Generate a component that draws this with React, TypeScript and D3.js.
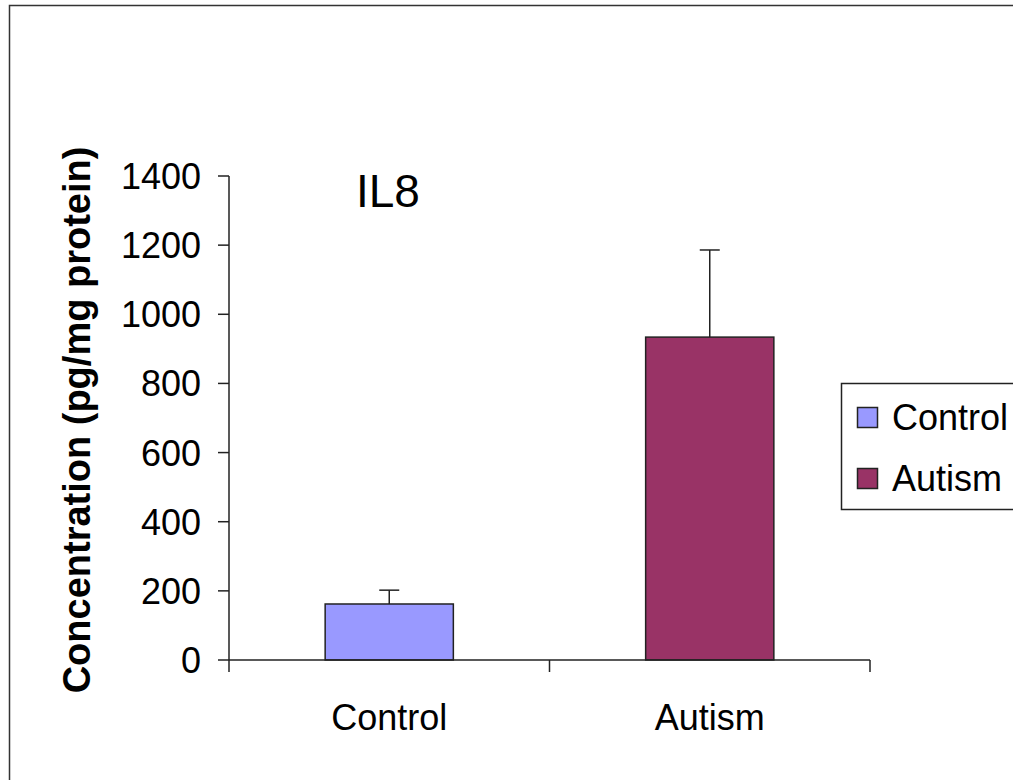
import React from "react";
import * as d3 from "d3";

const categories = ["Control", "Autism"];
const means = [162, 934];
const errors = [40, 252];
const colors = ["#9999FF", "#993366"];
const yTicks = [0, 200, 400, 600, 800, 1000, 1200, 1400];
const title = "IL8";
const yLabel = "Concentration (pg/mg protein)";

export default function App() {
  const W = 1013, H = 780;
  const x0 = 229, x1 = 870, yTop = 176, yBot = 660;
  const y = d3.scaleLinear().domain([0, 1400]).range([yBot, yTop]);
  const x = d3.scaleBand().domain(categories).range([x0, x1]).paddingInner(0.6).paddingOuter(0.3);
  const font = "'Liberation Sans', Arial, sans-serif";
  const stroke = "#222";
  const boundaries = [x0, (x0 + x1) / 2, x1];
  return (
    <svg width={W} height={H} style={{ position: "absolute", left: 0, top: 0, background: "#fff" }} fontFamily={font}>
      <rect x={9.5} y={5.5} width={1100} height={900} fill="white" stroke="#333" strokeWidth={1.5} />
      {/* y axis */}
      <line x1={x0} x2={x0} y1={yTop} y2={yBot} stroke={stroke} strokeWidth={1.5} />
      {yTicks.map((t) => (
        <g key={t}>
          <line x1={x0 - 11} x2={x0} y1={y(t)} y2={y(t)} stroke={stroke} strokeWidth={1.5} />
          <text x={201} y={y(t)} dy="0.36em" textAnchor="end" fontSize={36} fill="#000">{t}</text>
        </g>
      ))}
      {/* bars */}
      {categories.map((c, i) => {
        const bx = x(c)!;
        const cx = bx + x.bandwidth() / 2;
        return (
          <g key={c}>
            <line x1={cx} x2={cx} y1={y(means[i])} y2={y(means[i] + errors[i])} stroke={stroke} strokeWidth={1.5} />
            <line x1={cx - 10} x2={cx + 10} y1={y(means[i] + errors[i])} y2={y(means[i] + errors[i])} stroke={stroke} strokeWidth={1.5} />
            <rect x={bx} y={y(means[i])} width={x.bandwidth()} height={yBot - y(means[i])} fill={colors[i]} stroke={stroke} strokeWidth={1.5} />
            <text x={cx} y={730} textAnchor="middle" fontSize={36} fill="#000">{c}</text>
          </g>
        );
      })}
      {/* x axis */}
      <line x1={x0} x2={x1} y1={yBot} y2={yBot} stroke={stroke} strokeWidth={1.5} />
      {boundaries.map((b, i) => (
        <line key={i} x1={b} x2={b} y1={yBot} y2={yBot + 12} stroke={stroke} strokeWidth={1.5} />
      ))}
      {/* title */}
      <text x={356} y={207} fontSize={46} fill="#000">{title}</text>
      {/* y label */}
      <text transform={`translate(90,${(148 + 692) / 2}) rotate(-90)`} textAnchor="middle" fontSize={38} fontWeight="bold" fill="#000">{yLabel}</text>
      {/* legend */}
      <rect x={841.5} y={383.5} width={250} height={126} fill="white" stroke="#222" strokeWidth={1.5} />
      {categories.map((c, i) => (
        <g key={c}>
          <rect x={857.5} y={407.5 + i * 61} width={20} height={20} fill={colors[i]} stroke={stroke} strokeWidth={1.5} />
          <text x={892} y={417.5 + i * 61} dy="0.36em" fontSize={36} fill="#000">{c}</text>
        </g>
      ))}
    </svg>
  );
}
